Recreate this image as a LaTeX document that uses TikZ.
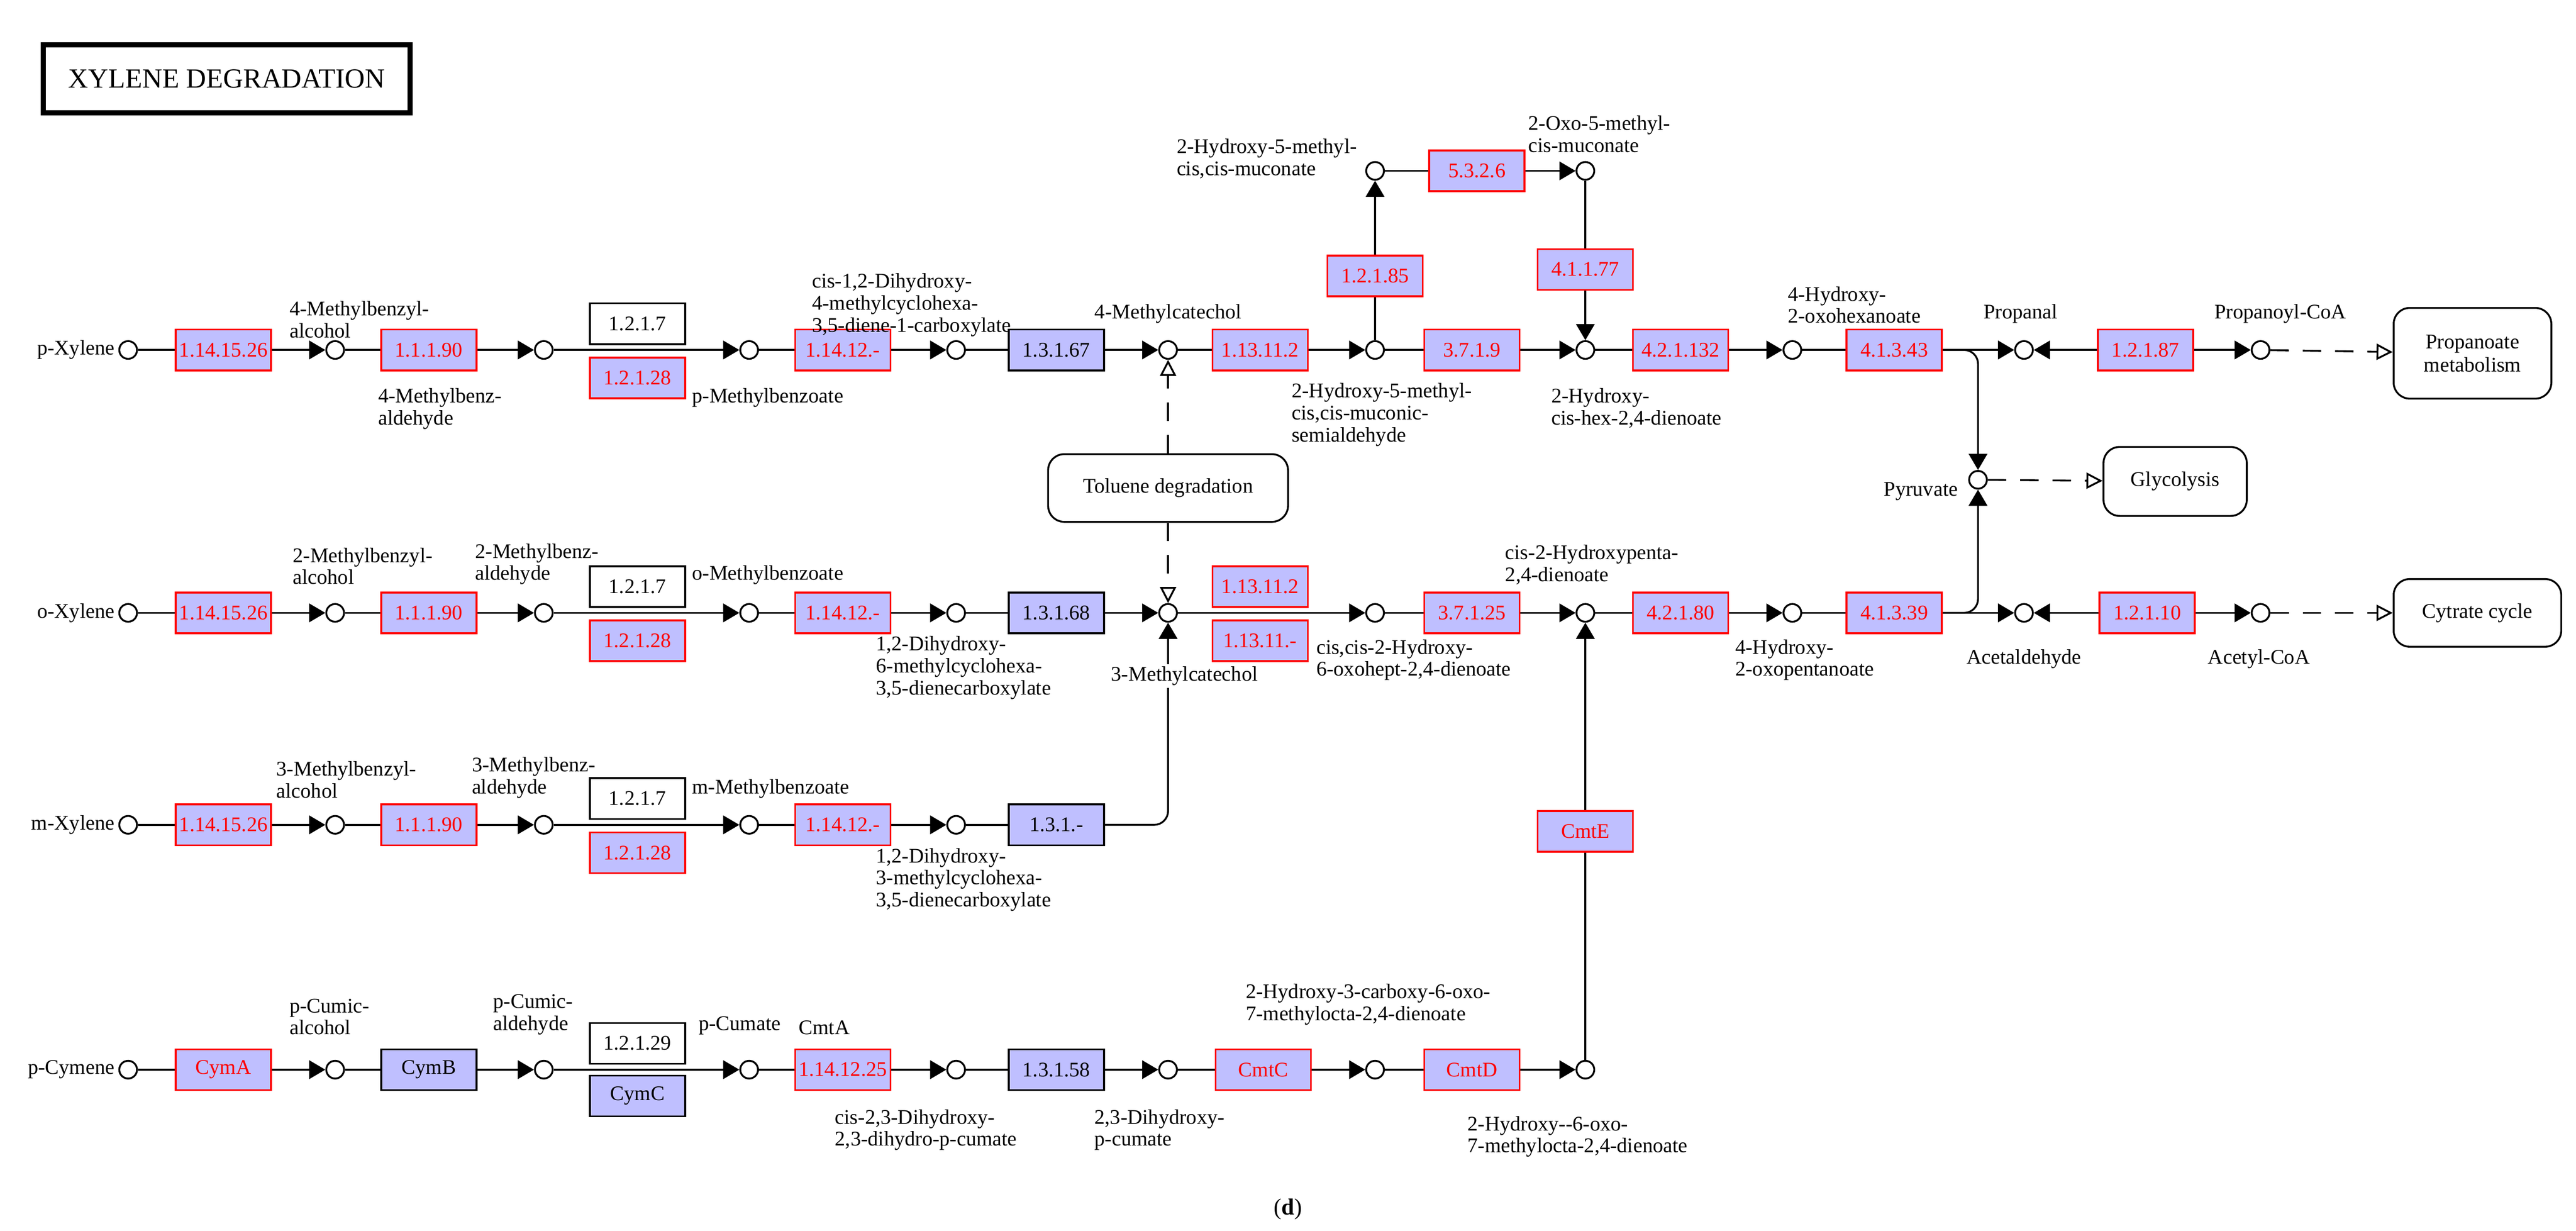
\documentclass[tikz,border=0pt]{standalone}
\usepackage{fontspec}
\setmainfont{Liberation Serif}
\usetikzlibrary{arrows.meta}
\definecolor{enzfill}{RGB}{191,191,255}
\begin{document}
\begin{tikzpicture}[x=0.025cm, y=-0.025cm, font=\fontsize{9}{10}\selectfont,
cpd/.style={circle, draw=black, thick, fill=white, inner sep=0pt, minimum size=0.27cm},
enz/.style={rectangle, draw=red, fill=enzfill, text=red, thick, inner sep=1pt, minimum width=1.45cm, minimum height=0.62cm},
orth/.style={rectangle, draw=black, fill=enzfill, thick, inner sep=1pt, minimum width=1.45cm, minimum height=0.62cm},
nogene/.style={rectangle, draw=black, fill=white, thick, inner sep=1pt, minimum width=1.45cm, minimum height=0.62cm},
pmap/.style={rectangle, rounded corners=7pt, draw=black, thick, align=center, inner sep=2pt},
lbl/.style={align=left, inner sep=0pt, font=\fontsize{9}{9.5}\selectfont},
line/.style={thick},
arr/.style={thick, -{Triangle[length=7pt,width=8pt]}},
link/.style={thick, dash pattern=on 8pt off 6pt, -{Triangle[open,length=7pt,width=7pt]}},]

	\useasboundingbox (0,0) rectangle (1568,749);

	\node (title) [rectangle, draw=black, line width=2.2pt, minimum width=5.58cm, minimum height=1.03cm, font=\fontsize{12}{14}\selectfont] at (138,48) {XYLENE DEGRADATION};

	% p-xylene
	\node (pxyl) [cpd] at (78,213) {};
	\node (pmbalc) [cpd] at (204,213) {};
	\node (pmbald) [cpd] at (331,213) {};
	\node (pmbz) [cpd] at (456,213) {};
	\node (pdhc) [cpd] at (582,213) {};
	\node (mcat4) [cpd] at (711,213) {};
	\node (hmsa) [cpd] at (837,213) {};
	\node (hmm) [cpd] at (837,104) {};
	\node (omm) [cpd] at (965,104) {};
	\node (hhd) [cpd] at (965,213) {};
	\node (hoh) [cpd] at (1091,213) {};
	\node (propal) [cpd] at (1232,213) {};
	\node (pcoa) [cpd] at (1376,213) {};

	\node (e1a) [enz] at (136,213) {1.14.15.26};
	\node (e1b) [enz] at (261,213) {1.1.1.90};
	\node (e1c) [nogene] at (388,197) {1.2.1.7};
	\node (e1d) [enz] at (388,230) {1.2.1.28};
	\node (e1e) [enz] at (513,213) {1.14.12.-};
	\node (e1f) [orth] at (643,213) {1.3.1.67};
	\node (e1g) [enz] at (767,213) {1.13.11.2};
	\node (e1h) [enz] at (896,213) {3.7.1.9};
	\node (e1i) [enz] at (837,168) {1.2.1.85};
	\node (e1j) [enz] at (899,104) {5.3.2.6};
	\node (e1k) [enz] at (965,164) {4.1.1.77};
	\node (e1l) [enz] at (1023,213) {4.2.1.132};
	\node (e1m) [enz] at (1153,213) {4.1.3.43};
	\node (e1n) [enz] at (1306,213) {1.2.1.87};

	\node (propmap) [pmap, minimum width=2.4cm, minimum height=1.38cm] at (1505,215) {Propanoate\\metabolism};
	\node (tolmap) [pmap, minimum width=3.65cm, minimum height=1.03cm] at (711,297) {Toluene degradation};
	\node (glymap) [pmap, minimum width=2.18cm, minimum height=1.05cm] at (1324,293) {Glycolysis};
	\node (citmap) [pmap, minimum width=2.55cm, minimum height=1.03cm] at (1508,373) {Cytrate cycle};
	\node (pyr) [cpd] at (1204,292) {};

	% o-xylene
	\node (oxyl) [cpd] at (78,373) {};
	\node (ombalc) [cpd] at (204,373) {};
	\node (ombald) [cpd] at (331,373) {};
	\node (ombz) [cpd] at (456,373) {};
	\node (odhc) [cpd] at (582,373) {};
	\node (mcat3) [cpd] at (711,373) {};
	\node (hod) [cpd] at (837,373) {};
	\node (hpd) [cpd] at (965,373) {};
	\node (hop) [cpd] at (1091,373) {};
	\node (acald) [cpd] at (1232,373) {};
	\node (acoa) [cpd] at (1376,373) {};

	\node (e2a) [enz] at (136,373) {1.14.15.26};
	\node (e2b) [enz] at (261,373) {1.1.1.90};
	\node (e2c) [nogene] at (388,357) {1.2.1.7};
	\node (e2d) [enz] at (388,390) {1.2.1.28};
	\node (e2e) [enz] at (513,373) {1.14.12.-};
	\node (e2f) [orth] at (643,373) {1.3.1.68};
	\node (e2g) [enz] at (767,357) {1.13.11.2};
	\node (e2h) [enz] at (767,390) {1.13.11.-};
	\node (e2i) [enz] at (896,373) {3.7.1.25};
	\node (e2j) [enz] at (1023,373) {4.2.1.80};
	\node (e2k) [enz] at (1153,373) {4.1.3.39};
	\node (e2l) [enz] at (1307,373) {1.2.1.10};

	% m-xylene
	\node (mxyl) [cpd] at (78,502) {};
	\node (mmbalc) [cpd] at (204,502) {};
	\node (mmbald) [cpd] at (331,502) {};
	\node (mmbz) [cpd] at (456,502) {};
	\node (mdhc) [cpd] at (582,502) {};

	\node (e3a) [enz] at (136,502) {1.14.15.26};
	\node (e3b) [enz] at (261,502) {1.1.1.90};
	\node (e3c) [nogene] at (388,486) {1.2.1.7};
	\node (e3d) [enz] at (388,519) {1.2.1.28};
	\node (e3e) [enz] at (513,502) {1.14.12.-};
	\node (e3f) [orth] at (643,502) {1.3.1.-};

	% p-cymene
	\node (pcym) [cpd] at (78,651) {};
	\node (pcalc) [cpd] at (204,651) {};
	\node (pcald) [cpd] at (331,651) {};
	\node (pcum) [cpd] at (456,651) {};
	\node (cdhc) [cpd] at (582,651) {};
	\node (dhpc) [cpd] at (711,651) {};
	\node (hcod) [cpd] at (837,651) {};
	\node (hmod) [cpd] at (965,651) {};

	\node (cyma) [enz] at (136,651) {CymA};
	\node (cymb) [orth] at (261,651) {CymB};
	\node (e4c) [nogene] at (388,635) {1.2.1.29};
	\node (cymc) [orth] at (388,667) {CymC};
	\node (cmta) [enz] at (513,651) {1.14.12.25};
	\node (e4f) [orth] at (643,651) {1.3.1.58};
	\node (cmtc) [enz] at (769,651) {CmtC};
	\node (cmtd) [enz] at (896,651) {CmtD};
	\node (cmte) [enz] at (965,506) {CmtE};

	% connectors
	\draw[line] (pxyl) -- (e1a);  \draw[arr] (e1a) -- (pmbalc);
	\draw[line] (pmbalc) -- (e1b);  \draw[arr] (e1b) -- (pmbald);
	\draw[arr] (pmbald) -- (pmbz);
	\draw[line] (pmbz) -- (e1e);  \draw[arr] (e1e) -- (pdhc);
	\draw[line] (pdhc) -- (e1f);  \draw[arr] (e1f) -- (mcat4);
	\draw[line] (mcat4) -- (e1g);  \draw[arr] (e1g) -- (hmsa);
	\draw[line] (hmsa) -- (e1h);  \draw[arr] (e1h) -- (hhd);
	\draw[line] (hmsa) -- (e1i);  \draw[arr] (e1i) -- (hmm);
	\draw[line] (hmm) -- (e1j);  \draw[arr] (e1j) -- (omm);
	\draw[line] (omm) -- (e1k);  \draw[arr] (e1k) -- (hhd);
	\draw[line] (hhd) -- (e1l);  \draw[arr] (e1l) -- (hoh);
	\draw[line] (hoh) -- (e1m);  \draw[arr] (e1m) -- (propal);
	\draw[arr] (e1n) -- (propal);  \draw[arr] (e1n) -- (pcoa);
	\draw[link] (pcoa) -- (propmap);
	\draw[arr, rounded corners=6pt] (e1m.east) -| (pyr);
	\draw[arr, rounded corners=6pt] (e2k.east) -| (pyr);
	\draw[link] (pyr) -- (glymap);
	\draw[link] (tolmap) -- (mcat4);
	\draw[link] (tolmap) -- (mcat3);

	\draw[line] (oxyl) -- (e2a);  \draw[arr] (e2a) -- (ombalc);
	\draw[line] (ombalc) -- (e2b);  \draw[arr] (e2b) -- (ombald);
	\draw[arr] (ombald) -- (ombz);
	\draw[line] (ombz) -- (e2e);  \draw[arr] (e2e) -- (odhc);
	\draw[line] (odhc) -- (e2f);  \draw[arr] (e2f) -- (mcat3);
	\draw[arr] (mcat3) -- (hod);
	\draw[line] (hod) -- (e2i);  \draw[arr] (e2i) -- (hpd);
	\draw[line] (hpd) -- (e2j);  \draw[arr] (e2j) -- (hop);
	\draw[line] (hop) -- (e2k);  \draw[arr] (e2k) -- (acald);
	\draw[arr] (e2l) -- (acald);  \draw[arr] (e2l) -- (acoa);
	\draw[link] (acoa) -- (citmap);

	\draw[line] (mxyl) -- (e3a);  \draw[arr] (e3a) -- (mmbalc);
	\draw[line] (mmbalc) -- (e3b);  \draw[arr] (e3b) -- (mmbald);
	\draw[arr] (mmbald) -- (mmbz);
	\draw[line] (mmbz) -- (e3e);  \draw[arr] (e3e) -- (mdhc);
	\draw[line] (mdhc) -- (e3f);
	\draw[arr, rounded corners=6pt] (e3f.east) -| (mcat3);

	\draw[line] (pcym) -- (cyma);  \draw[arr] (cyma) -- (pcalc);
	\draw[line] (pcalc) -- (cymb);  \draw[arr] (cymb) -- (pcald);
	\draw[arr] (pcald) -- (pcum);
	\draw[line] (pcum) -- (cmta);  \draw[arr] (cmta) -- (cdhc);
	\draw[line] (cdhc) -- (e4f);  \draw[arr] (e4f) -- (dhpc);
	\draw[line] (dhpc) -- (cmtc);  \draw[arr] (cmtc) -- (hcod);
	\draw[line] (hcod) -- (cmtd);  \draw[arr] (cmtd) -- (hmod);
	\draw[line] (hmod) -- (cmte);  \draw[arr] (cmte) -- (hpd);

	% compound names
	\node (t1) [lbl, anchor=east] at (70,213) {p-Xylene};
	\node (t2) [lbl, anchor=south west] at (176,206) {4-Methylbenzyl-\\alcohol};
	\node (t3) [lbl, anchor=north west] at (230,236) {4-Methylbenz-\\aldehyde};
	\node (t4) [lbl, anchor=north west] at (421,236) {p-Methylbenzoate};
	\node (t5) [lbl, anchor=south west] at (494,205) {cis-1,2-Dihydroxy-\\4-methylcyclohexa-\\3,5-diene-1-carboxylate};
	\node (t6) [lbl, anchor=south] at (711,197) {4-Methylcatechol};
	\node (t7) [lbl, anchor=south west] at (716,109) {2-Hydroxy-5-methyl-\\cis,cis-muconate};
	\node (t8) [lbl, anchor=south west] at (930,93) {2-Oxo-5-methyl-\\cis-muconate};
	\node (t9) [lbl, anchor=north west] at (786,233) {2-Hydroxy-5-methyl-\\cis,cis-muconic-\\semialdehyde};
	\node (t10) [lbl, anchor=south west] at (1088,197) {4-Hydroxy-\\2-oxohexanoate};
	\node (t11) [lbl, anchor=north west] at (944,236) {2-Hydroxy-\\cis-hex-2,4-dienoate};
	\node (t12) [lbl, anchor=south] at (1230,197) {Propanal};
	\node (t13) [lbl, anchor=south] at (1388,197) {Propanoyl-CoA};
	\node (t14) [lbl, anchor=east] at (1192,299) {Pyruvate};

	\node (t15) [lbl, anchor=east] at (70,373) {o-Xylene};
	\node (t16) [lbl, anchor=south west] at (178,356) {2-Methylbenzyl-\\alcohol};
	\node (t17) [lbl, anchor=south west] at (289,356) {2-Methylbenz-\\aldehyde};
	\node (t18) [lbl, anchor=south west] at (421,356) {o-Methylbenzoate};
	\node (t19) [lbl, anchor=north west] at (533,387) {1,2-Dihydroxy-\\6-methylcyclohexa-\\3,5-dienecarboxylate};
	\node (t20) [lbl, anchor=north, fill=white, inner ysep=1pt] at (721,404) {3-Methylcatechol};
	\node (t21) [lbl, anchor=north west] at (801,389) {cis,cis-2-Hydroxy-\\6-oxohept-2,4-dienoate};
	\node (t22) [lbl, anchor=south west] at (916,356) {cis-2-Hydroxypenta-\\2,4-dienoate};
	\node (t23) [lbl, anchor=north west] at (1056,389) {4-Hydroxy-\\2-oxopentanoate};
	\node (t24) [lbl, anchor=north] at (1232,395) {Acetaldehyde};
	\node (t25) [lbl, anchor=north] at (1375,395) {Acetyl-CoA};

	\node (t26) [lbl, anchor=east] at (70,502) {m-Xylene};
	\node (t27) [lbl, anchor=south west] at (168,486) {3-Methylbenzyl-\\alcohol};
	\node (t28) [lbl, anchor=south west] at (287,486) {3-Methylbenz-\\aldehyde};
	\node (t29) [lbl, anchor=south west] at (421,486) {m-Methylbenzoate};
	\node (t30) [lbl, anchor=north west] at (533,516) {1,2-Dihydroxy-\\3-methylcyclohexa-\\3,5-dienecarboxylate};

	\node (t31) [lbl, anchor=east] at (70,651) {p-Cymene};
	\node (t32) [lbl, anchor=south west] at (176,630) {p-Cumic-\\alcohol};
	\node (t33) [lbl, anchor=south west] at (300,630) {p-Cumic-\\aldehyde};
	\node (t34) [lbl, anchor=south west] at (425,630) {p-Cumate};
	\node (t35) [lbl, anchor=south west] at (486,630) {CmtA};
	\node (t36) [lbl, anchor=south west] at (758,624) {2-Hydroxy-3-carboxy-6-oxo-\\7-methylocta-2,4-dienoate};
	\node (t37) [lbl, anchor=north west] at (508,675) {cis-2,3-Dihydroxy-\\2,3-dihydro-p-cumate};
	\node (t38) [lbl, anchor=north west] at (666,675) {2,3-Dihydroxy-\\p-cumate};
	\node (t39) [lbl, anchor=north west] at (893,679) {2-Hydroxy-{}-6-oxo-\\7-methylocta-2,4-dienoate};

	\node (cap) [font=\fontsize{10}{12}\selectfont] at (784,736) {(\textbf{d})};

\end{tikzpicture}
\end{document}
